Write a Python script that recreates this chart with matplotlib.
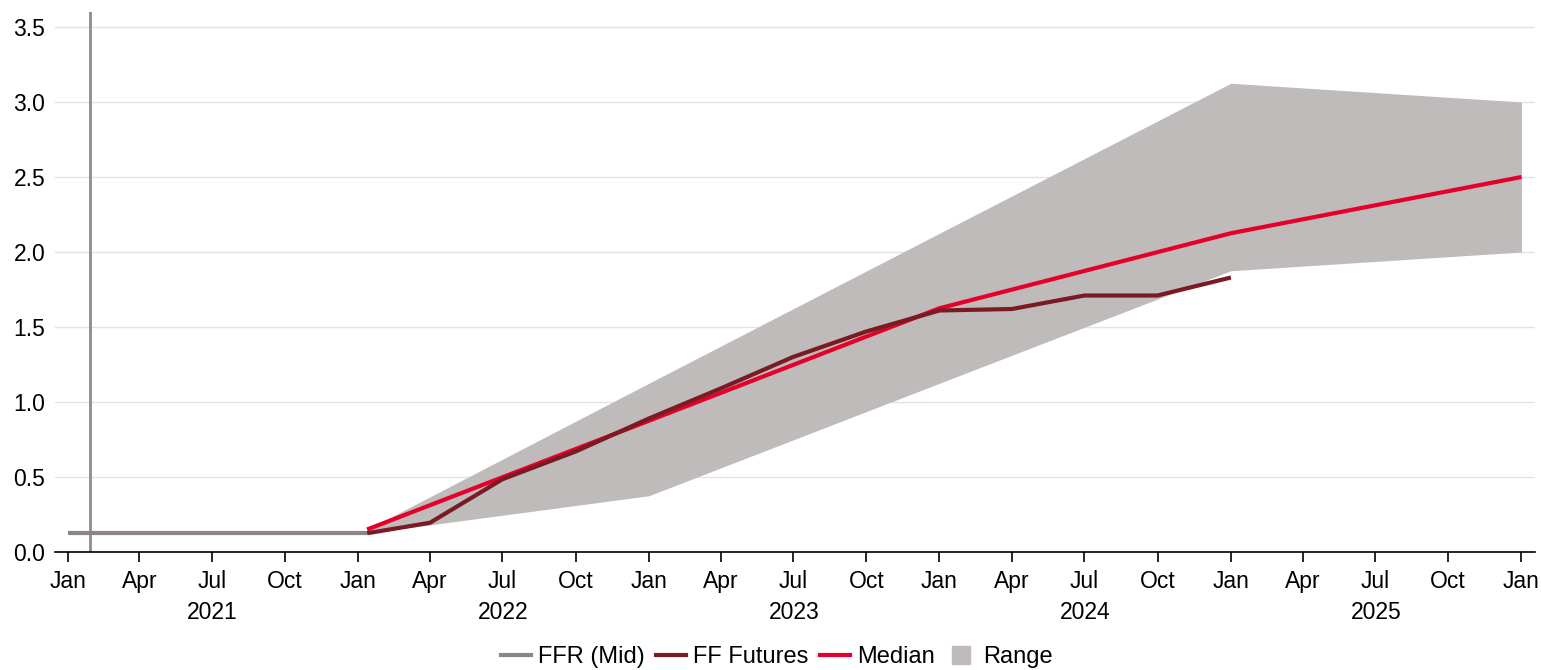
import matplotlib
matplotlib.use("Agg")
import matplotlib.pyplot as plt
import matplotlib.transforms as mtransforms
from matplotlib.lines import Line2D
import numpy as np
import datetime as dt

# ---- data ----
ffr_dates = ["2021-01-01", "2022-01-12"]
ffr_values = [0.125, 0.125]

fut_dates = ["2022-01-12", "2022-04-01", "2022-07-01", "2022-10-01", "2023-01-01",
             "2023-04-01", "2023-07-01", "2023-10-01", "2024-01-01", "2024-04-01",
             "2024-07-01", "2024-10-01", "2025-01-01"]
fut_values = [0.125, 0.195, 0.485, 0.67, 0.89, 1.09, 1.30, 1.47, 1.61, 1.62, 1.71, 1.71, 1.83]

med_dates = ["2022-01-12", "2023-01-01", "2024-01-01", "2025-01-01", "2026-01-01"]
med_values = [0.15, 0.875, 1.625, 2.125, 2.5]

rng_dates = ["2022-01-12", "2023-01-01", "2024-01-01", "2025-01-01", "2026-01-01"]
rng_low = [0.125, 0.375, 1.125, 1.875, 2.0]
rng_high = [0.15, 1.125, 2.125, 3.125, 3.0]

marker_date = "2021-01-29"
years = [2021, 2022, 2023, 2024, 2025]
month_labels = {1: "Jan", 4: "Apr", 7: "Jul", 10: "Oct"}

def d(s):
    return dt.datetime.strptime(s, "%Y-%m-%d")

plt.rcParams['font.family'] = ['Liberation Sans', 'DejaVu Sans']

fig = plt.figure(figsize=(15.41, 6.70), dpi=100)
ax = fig.add_axes([55/1541, 1-552/670, (1535-55)/1541, (552-12)/670])

c_ffr = "#8C8486"
c_fut = "#7A1A22"
c_med = "#E4002B"
c_rng = "#BFBBBA"

ax.fill_between([d(x) for x in rng_dates], rng_low, rng_high, color=c_rng, lw=0, zorder=1)
ax.plot([d(x) for x in ffr_dates], ffr_values, color=c_ffr, lw=3, zorder=3, solid_capstyle='butt')
ax.plot([d(x) for x in med_dates], med_values, color=c_med, lw=3, zorder=4, solid_capstyle='butt')
ax.plot([d(x) for x in fut_dates], fut_values, color=c_fut, lw=3, zorder=5, solid_capstyle='butt')
ax.axvline(d(marker_date), color="#8C8C8C", lw=2, zorder=2)

ax.set_ylim(0, 3.6)
ax.set_xlim(dt.datetime(2020, 12, 16), dt.datetime(2026, 1, 18))
ax.set_yticks(np.arange(0, 3.51, 0.5))
ax.set_yticklabels([f"{v:.1f}" for v in np.arange(0, 3.51, 0.5)])
ax.grid(axis='y', color="#E3E3E3", lw=1)
ax.set_axisbelow(True)

ticks = []
labels = []
for y in range(2021, 2027):
    for m in (1, 4, 7, 10):
        if y == 2026 and m > 1:
            continue
        ticks.append(dt.datetime(y, m, 1))
        labels.append(month_labels[m])
ax.set_xticks(ticks)
ax.set_xticklabels(labels)

for s in ("top", "right", "left"):
    ax.spines[s].set_visible(False)
ax.spines["bottom"].set_color("black")
ax.spines["bottom"].set_linewidth(1.2)
ax.tick_params(axis='y', length=0, labelsize=16.5, pad=7)
ax.tick_params(axis='x', length=7, width=1.2, direction='out', labelsize=16.5, pad=6)

trans = mtransforms.blended_transform_factory(ax.transData, ax.transAxes)
for y in years:
    ax.text(dt.datetime(y, 7, 2), -0.09, str(y), transform=trans, ha='center', va='top', fontsize=16.5)

handles = [Line2D([0], [0], color=c_ffr, lw=3),
           Line2D([0], [0], color=c_fut, lw=3),
           Line2D([0], [0], color=c_med, lw=3),
           Line2D([0], [0], color=c_rng, marker='s', markersize=13, linestyle='none')]
leg = fig.legend(handles, ["FFR (Mid)", "FF Futures", "Median", "Range"],
                 loc='center', bbox_to_anchor=(777/1541, 1-657/670), ncol=4, frameon=False,
                 prop={'family': ['Liberation Sans Narrow', 'Liberation Sans'], 'size': 17},
                 handlelength=1.25, handletextpad=0.3, columnspacing=0.5)

fig.savefig("out.png", dpi=100)
